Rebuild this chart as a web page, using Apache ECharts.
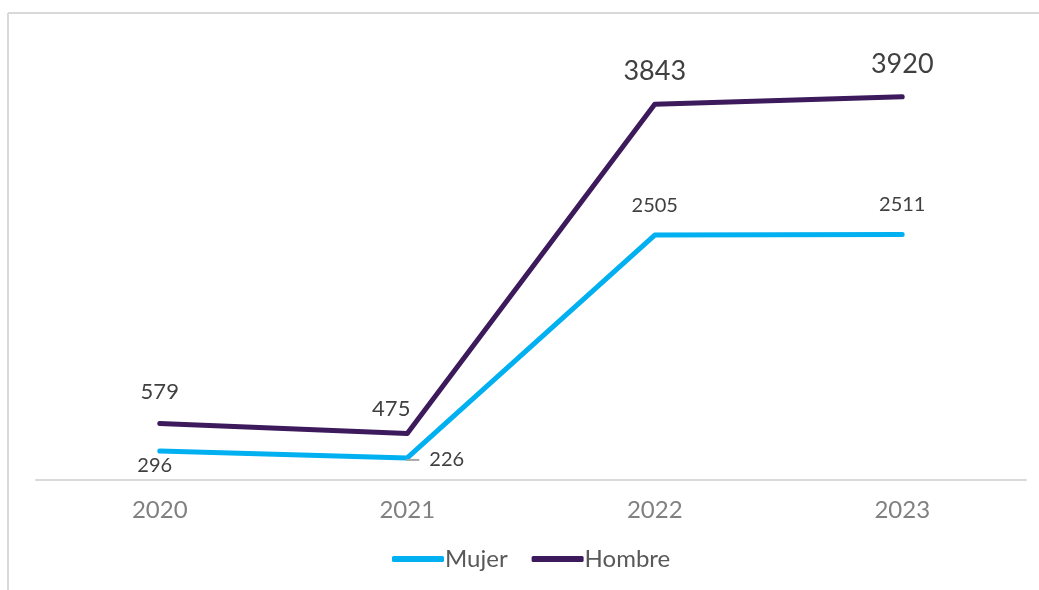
<!DOCTYPE html>
<html>
<head>
<meta charset="utf-8">
<script src="https://cdn.jsdelivr.net/npm/echarts@6/dist/echarts.min.js"></script>
<style>html,body{margin:0;padding:0;background:#fff}#c{width:1039px;height:590px}</style>
</head>
<body>
<div id="c"></div>
<script>
const categories = ['2020', '2021', '2022', '2023'];
const mujer = [296, 226, 2505, 2511];
const hombre = [579, 475, 3843, 3920];

const hombreLabels = [
  { position: 'top', distance: 20, offset: [0, 0], fontSize: 22 },
  { position: 'top', distance: 14, offset: [-16, 0], fontSize: 22 },
  { position: 'top', distance: 19, offset: [0, 0], fontSize: 27 },
  { position: 'top', distance: 19, offset: [0, 0], fontSize: 27 }
];
const mujerLabels = [
  { position: 'bottom', distance: 4, offset: [-5, 0] },
  { position: 'right', distance: 0, offset: [-1, 2], formatter: '{d| }{v|{c}}' },
  { position: 'top', distance: 19, offset: [0, 0] },
  { position: 'top', distance: 20, offset: [0, 0] }
];

const chart = echarts.init(document.getElementById('c'));
chart.setOption({
  animation: false,
  backgroundColor: '#ffffff',
  graphic: [
    { type: 'line', shape: { x1: 8, y1: 13, x2: 1039, y2: 13 }, style: { stroke: '#d9d9d9', lineWidth: 2 } },
    { type: 'line', shape: { x1: 8, y1: 13, x2: 8, y2: 590 }, style: { stroke: '#d9d9d9', lineWidth: 2 } }
  ],
  grid: { left: 36, right: 13, top: 40, bottom: 110 },
  legend: {
    bottom: 14,
    left: 387,
    itemWidth: 52,
    itemHeight: 6,
    itemGap: 24,
    icon: 'roundRect',
    textStyle: { fontFamily: 'Lato', fontSize: 24, color: '#595959', padding: [0, 0, 0, -4] },
    data: ['Mujer', 'Hombre']
  },
  xAxis: {
    type: 'category',
    data: categories,
    boundaryGap: true,
    axisLine: { lineStyle: { color: '#d9d9d9', width: 2 } },
    axisTick: { show: false },
    axisLabel: { fontFamily: 'Lato', fontSize: 24, color: '#808080', margin: 18 }
  },
  yAxis: {
    type: 'value',
    min: 0,
    max: 4500,
    show: false,
    splitLine: { show: false }
  },
  series: [
    {
      name: 'Mujer',
      type: 'line',
      color: '#00b0f0',
      symbol: 'circle',
      symbolSize: 0.1,
      lineStyle: { width: 5, cap: 'round', join: 'round' },
      data: mujer.map((v, i) => ({
        value: v,
        label: Object.assign({
          show: true,
          fontFamily: 'Lato',
          fontSize: 20,
          color: '#404040',
          rich: {
            d: { width: 13, height: 2, backgroundColor: '#a6a6a6', color: 'transparent', fontSize: 2 },
            v: { color: '#404040', fontSize: 20, fontFamily: 'Lato', padding: [0, 0, 0, 10] }
          }
        }, mujerLabels[i])
      })),
      z: 3
    },
    {
      name: 'Hombre',
      type: 'line',
      color: '#3d1a5b',
      symbol: 'circle',
      symbolSize: 0.1,
      lineStyle: { width: 5, cap: 'round', join: 'round' },
      data: hombre.map((v, i) => ({
        value: v,
        label: Object.assign({
          show: true,
          fontFamily: 'Lato',
          color: '#404040'
        }, hombreLabels[i])
      })),
      z: 2
    }
  ]
});
</script>
</body>
</html>
